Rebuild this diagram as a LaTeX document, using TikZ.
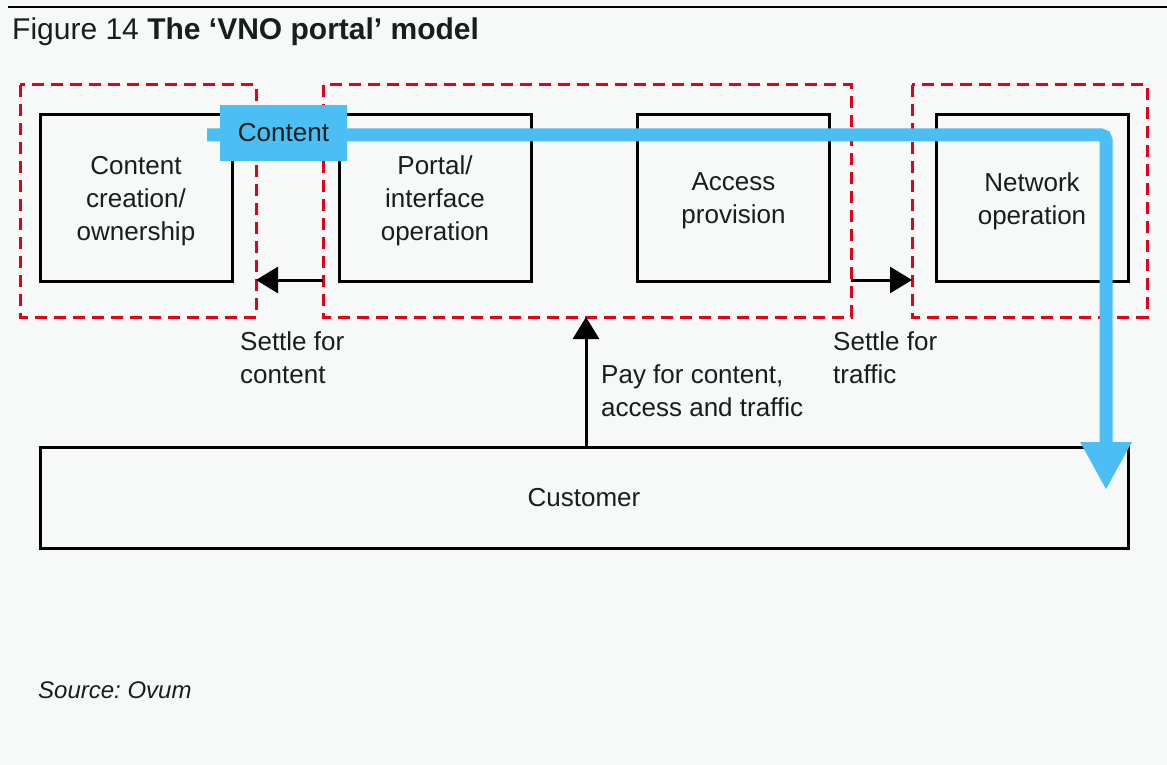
\documentclass[tikz,border=0pt]{standalone}
\usepackage{fontspec}
\setmainfont{Liberation Sans}
\usetikzlibrary{arrows.meta}
\frenchspacing
\definecolor{bg}{HTML}{F6F9F8}
\definecolor{ink}{HTML}{1C1C1C}
\definecolor{dashred}{HTML}{E3001B}
\definecolor{flowblue}{HTML}{4BBEF4}
\tikzset{
  txt/.style={font=\fontsize{26}{33}\selectfont, text=ink, inner sep=0pt, align=center},
  role/.style={txt, draw=black, line width=3pt, minimum width=192pt, minimum height=166pt},
  group/.style={draw=dashred, line width=3pt, dash pattern=on 12pt off 7pt},
  pay/.style={draw=black, line width=3pt, -{Triangle[length=22pt,width=26pt]}},
  lbl/.style={txt, align=left, anchor=west}
}
\begin{document}
\begin{tikzpicture}[x=1pt,y=-1pt]
\fill[bg] (0,0) rectangle (1167,765);
\useasboundingbox (0,0) rectangle (1167,765);
% top rule
\draw[line width=2.5pt, black] (8,7) -- (1167,7);
% title
\node[anchor=base west, inner sep=0pt, text=ink, font=\fontsize{30}{36}\selectfont] (title) at (12,39.5) {Figure 14 \textbf{The ‘VNO portal’ model}};
% dashed groups
\draw[group] (20,85) rectangle (256,317);
\draw[group] (323,85) rectangle (851,317);
\draw[group] (912,85) rectangle (1147,317);
\coordinate (g1r) at (256,280);
\coordinate (g2l) at (323,280);
\coordinate (g2r) at (851,280);
\coordinate (g3l) at (912,280);
\coordinate (g2b) at (586,317);
% role boxes
\node[role] (cco) at (136,198) {};
\node[role] (pio) at (435,198) {};
\node[role] (acc) at (733.5,198) {};
\node[role] (net) at (1032,198) {};
\node[txt] (ccot) at (136,201) {Content\\creation/\\ownership};
\node[txt] (piot) at (435,201) {Portal/\\interface\\operation};
\node[txt] (acct) at (733.5,201) {Access\\provision};
\node[txt] (nett) at (1032,201) {Network\\operation};
\node[txt, draw=black, line width=3pt, minimum width=1088pt, minimum height=101pt] (cust) at (584,497.5) {Customer};
% money flows
\draw[pay] (g2l) -- (g1r);
\draw[pay] (g2r) -- (g3l);
\draw[pay] (cust.north -| g2b) -- (g2b);
\node[lbl] (l1) at (240,358) {Settle for\\content};
\node[lbl] (l2) at (833,358) {Settle for\\traffic};
\node[lbl] (l3) at (601,390.5) {Pay for content,\\access and traffic};
% content flow
\coordinate (cs) at (207,135);
\coordinate (cc) at (1106,135);
\coordinate (ce) at (1106,490);
\draw[flowblue, line width=13pt, rounded corners=5pt, -{Triangle[length=48pt,width=48pt]}] (cs) -- (cc) -- (ce);
\node[txt, fill=flowblue, minimum width=127pt, minimum height=56pt] (content) at (283.5,133) {Content};
% source
\node[anchor=base west, inner sep=0pt, text=ink, font=\fontsize{24}{29}\selectfont\itshape] (src) at (38,698) {Source: Ovum};
\end{tikzpicture}
\end{document}
